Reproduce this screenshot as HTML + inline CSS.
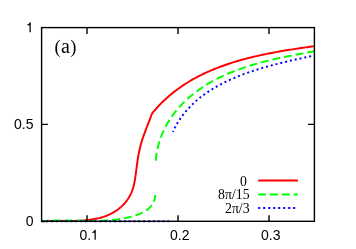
<!DOCTYPE html>
<html><head><meta charset="utf-8"><title>plot</title>
<style>html,body{margin:0;padding:0;background:#fff;overflow:hidden}svg{display:block}</style>
</head><body>
<svg width="356" height="249" viewBox="0 0 356 249">
<defs><filter id="idf" x="0" y="0" width="356" height="249" filterUnits="userSpaceOnUse" color-interpolation-filters="sRGB"><feOffset dx="0" dy="0"/></filter></defs>
<rect width="356" height="249" fill="#fff"/>
<g fill="none" stroke-width="1.95" stroke-linejoin="round">
<path d="M41.60,221.40L42.98,221.31L44.37,221.23L45.78,221.17L47.21,221.11L48.65,221.07L50.10,221.04L51.57,221.02L53.05,221.01L54.54,221.00L56.04,221.00L57.55,221.00L59.07,221.01L60.60,221.01L62.14,221.02L63.68,221.03L65.23,221.03L66.78,221.03L68.34,221.03L69.90,221.02L71.46,221.00L73.02,220.98L74.59,220.94L76.15,220.89L77.72,220.84L79.28,220.77L80.84,220.68L82.40,220.58L83.95,220.46L85.50,220.32L87.04,220.17L88.58,219.99L90.11,219.79L91.63,219.57L93.15,219.33L94.65,219.06L96.14,218.76L97.62,218.43L99.10,218.08L100.55,217.69L102.00,217.28L103.43,216.83L104.84,216.34L106.24,215.82L107.62,215.26L108.99,214.67L110.33,214.04L111.66,213.37L112.96,212.66L114.25,211.91L115.50,211.12L116.73,210.29L117.94,209.43L119.11,208.53L120.25,207.59L121.36,206.62L122.44,205.60L123.48,204.55L124.48,203.47L125.44,202.35L126.36,201.19L127.25,200.00L128.08,198.78L128.87,197.54L129.62,196.26L130.31,194.96L130.96,193.64L131.55,192.30L132.10,190.93L132.59,189.55L133.04,188.15L133.44,186.74L133.81,185.31L134.15,183.87L134.45,182.41L134.73,180.94L134.99,179.46L135.22,177.97L135.44,176.47L135.65,174.96L135.85,173.44L136.04,171.92L136.23,170.39L136.43,168.86L136.63,167.33L136.83,165.79L137.04,164.25L137.25,162.71L137.48,161.17L137.71,159.64L137.96,158.10L138.21,156.58L138.48,155.05L138.77,153.53L139.06,152.02L139.38,150.51L139.71,149.02L140.06,147.53L140.43,146.06L140.82,144.60L141.23,143.14L141.65,141.70L142.10,140.27L142.55,138.84L143.03,137.42L143.51,136.01L144.01,134.61L144.52,133.21L145.04,131.81L145.56,130.42L146.09,129.03L146.63,127.64L147.17,126.25L147.71,124.85L148.26,123.46L148.80,122.07L149.34,120.67L149.89,119.27L150.42,117.86L150.96,116.45L151.48,115.03L152.00,113.60L152.97,112.40L153.95,111.22L154.95,110.05L155.95,108.89L156.97,107.75L157.99,106.63L159.03,105.52L160.07,104.43L161.13,103.34L162.20,102.28L163.28,101.23L164.36,100.19L165.46,99.17L166.57,98.16L167.69,97.16L168.81,96.18L169.95,95.21L171.09,94.25L172.25,93.31L173.41,92.38L174.59,91.47L175.77,90.56L176.96,89.68L178.16,88.80L179.36,87.93L180.58,87.08L181.80,86.24L183.03,85.41L184.27,84.60L185.52,83.80L186.77,83.01L188.04,82.23L189.31,81.46L190.58,80.70L191.87,79.96L193.16,79.22L194.46,78.50L195.76,77.79L197.08,77.09L198.40,76.40L199.72,75.72L201.05,75.06L202.39,74.40L203.73,73.75L205.08,73.12L206.44,72.49L207.80,71.87L209.17,71.27L210.54,70.67L211.92,70.09L213.30,69.51L214.69,68.94L216.08,68.38L217.48,67.83L218.88,67.29L220.29,66.76L221.70,66.24L223.12,65.73L224.54,65.22L225.97,64.73L227.39,64.24L228.83,63.76L230.26,63.29L231.70,62.83L233.15,62.37L234.59,61.92L236.04,61.48L237.50,61.05L238.96,60.63L240.41,60.21L241.88,59.80L243.34,59.40L244.81,59.00L246.28,58.62L247.75,58.23L249.23,57.86L250.70,57.49L252.18,57.13L253.66,56.77L255.14,56.42L256.63,56.08L258.11,55.74L259.60,55.41L261.09,55.08L262.57,54.76L264.06,54.45L265.55,54.14L267.05,53.84L268.54,53.54L270.03,53.24L271.52,52.95L273.01,52.67L274.51,52.39L276.00,52.12L277.49,51.85L278.98,51.58L280.48,51.32L281.97,51.06L283.46,50.81L284.95,50.56L286.44,50.31L287.93,50.07L289.41,49.83L290.90,49.60L292.38,49.36L293.87,49.13L295.35,48.91L296.83,48.69L298.30,48.47L299.78,48.25L301.25,48.03L302.72,47.82L304.19,47.61L305.66,47.40L307.12,47.20L308.59,47.00L310.04,46.79L311.50,46.59L312.95,46.40L314.40,46.20" stroke="#ff0000"/>
<path d="M155.30,195.00L155.10,196.74L154.78,198.38L154.36,199.93L153.84,201.38L153.23,202.74L152.52,204.02L151.74,205.21L150.87,206.33L149.93,207.37L148.92,208.35L147.85,209.26L146.72,210.10L145.54,210.89L144.31,211.63L143.04,212.31L141.73,212.95L140.39,213.54L139.02,214.10L137.63,214.62L136.23,215.12L134.81,215.58L133.39,216.02L131.96,216.44L130.52,216.83L129.07,217.20L127.62,217.55L126.15,217.88L124.68,218.18L123.21,218.47L121.72,218.73L120.24,218.98L118.74,219.21L117.24,219.41L115.73,219.61L114.22,219.78L112.71,219.94L111.19,220.09L109.66,220.21L108.13,220.33L106.60,220.43L105.07,220.52L103.53,220.60L101.99,220.66L100.45,220.72L98.90,220.76L97.36,220.80L95.81,220.83L94.26,220.84L92.71,220.86L91.16,220.86L89.61,220.86L88.06,220.85L86.50,220.84L84.96,220.82L83.41,220.80L81.86,220.77L80.31,220.75L78.77,220.72L77.22,220.69L75.68,220.66L74.15,220.63L72.61,220.60L71.08,220.57L69.55,220.54L68.03,220.52L66.51,220.50L65.00,220.48L63.49,220.47L61.98,220.47L60.48,220.47L58.99,220.47L57.50,220.49L56.02,220.51L54.54,220.54L53.07,220.58L51.61,220.63L50.15,220.69L48.71,220.76L47.27,220.84L45.84,220.94L44.42,221.04L43.00,221.16L41.60,221.30" stroke="#00ff00" stroke-dasharray="7.9 3.95" stroke-dashoffset="1.0"/>
<path d="M155.70,160.70L155.84,159.13L156.01,157.57L156.20,156.02L156.42,154.49L156.67,152.96L156.94,151.44L157.24,149.93L157.56,148.44L157.91,146.95L158.28,145.48L158.68,144.02L159.10,142.56L159.55,141.12L160.01,139.69L160.51,138.28L161.02,136.87L161.56,135.48L162.12,134.09L162.70,132.72L163.30,131.36L163.93,130.02L164.57,128.68L165.24,127.36L165.93,126.05L166.64,124.76L167.37,123.47L168.11,122.20L168.88,120.94L169.67,119.70L170.47,118.46L171.30,117.25L172.14,116.04L173.00,114.85L173.88,113.67L174.78,112.50L175.69,111.35L176.62,110.21L177.57,109.09L178.53,107.98L179.51,106.88L180.50,105.79L181.51,104.72L182.54,103.66L183.58,102.61L184.63,101.58L185.70,100.56L186.79,99.55L187.88,98.56L188.99,97.58L190.12,96.61L191.25,95.66L192.40,94.72L193.56,93.79L194.73,92.87L195.92,91.97L197.11,91.08L198.32,90.20L199.54,89.34L200.77,88.49L202.01,87.65L203.25,86.82L204.51,86.01L205.78,85.21L207.06,84.42L208.34,83.64L209.64,82.88L210.94,82.13L212.25,81.39L213.57,80.67L214.89,79.96L216.23,79.26L217.56,78.57L218.91,77.89L220.26,77.23L221.62,76.57L222.99,75.93L224.36,75.30L225.74,74.68L227.13,74.07L228.52,73.48L229.91,72.89L231.32,72.31L232.72,71.74L234.13,71.19L235.55,70.64L236.97,70.11L238.40,69.58L239.83,69.06L241.26,68.55L242.70,68.05L244.14,67.56L245.59,67.08L247.03,66.61L248.49,66.14L249.94,65.69L251.40,65.24L252.86,64.80L254.32,64.37L255.79,63.94L257.26,63.52L258.73,63.11L260.20,62.71L261.67,62.31L263.15,61.92L264.63,61.54L266.10,61.17L267.58,60.80L269.06,60.43L270.54,60.07L272.02,59.72L273.51,59.38L274.99,59.03L276.47,58.70L277.95,58.37L279.43,58.04L280.91,57.72L282.39,57.41L283.87,57.10L285.35,56.79L286.82,56.49L288.30,56.19L289.77,55.89L291.24,55.60L292.71,55.31L294.18,55.03L295.64,54.75L297.11,54.47L298.57,54.19L300.02,53.92L301.48,53.65L302.93,53.38L304.38,53.11L305.82,52.85L307.26,52.59L308.70,52.33L310.13,52.07L311.56,51.81L312.98,51.56L314.40,51.30" stroke="#00ff00" stroke-dasharray="7.876 3.968"/>
<path d="M41.6,221.3H171.7" stroke="#0000ff" stroke-dasharray="2 2.85" stroke-dashoffset="0.3"/>
<path d="M172.90,131.80L173.56,130.38L174.23,128.98L174.93,127.60L175.65,126.24L176.39,124.90L177.15,123.57L177.94,122.27L178.74,120.99L179.56,119.72L180.40,118.47L181.26,117.24L182.14,116.03L183.03,114.84L183.95,113.66L184.88,112.50L185.83,111.36L186.80,110.23L187.78,109.13L188.78,108.04L189.80,106.96L190.83,105.90L191.87,104.86L192.94,103.84L194.02,102.83L195.11,101.83L196.21,100.86L197.34,99.89L198.47,98.94L199.62,98.01L200.78,97.09L201.95,96.19L203.14,95.30L204.34,94.43L205.55,93.56L206.77,92.72L208.00,91.88L209.24,91.06L210.50,90.26L211.76,89.47L213.03,88.69L214.32,87.92L215.61,87.16L216.91,86.42L218.22,85.69L219.54,84.97L220.87,84.27L222.20,83.57L223.55,82.89L224.90,82.22L226.25,81.56L227.61,80.91L228.98,80.27L230.36,79.65L231.74,79.03L233.12,78.42L234.52,77.83L235.91,77.24L237.31,76.66L238.72,76.10L240.13,75.54L241.54,74.99L242.96,74.45L244.39,73.92L245.81,73.40L247.25,72.88L248.68,72.38L250.12,71.88L251.56,71.39L253.01,70.91L254.46,70.44L255.91,69.97L257.36,69.52L258.82,69.06L260.27,68.62L261.74,68.18L263.20,67.75L264.66,67.33L266.13,66.91L267.60,66.49L269.07,66.09L270.54,65.69L272.01,65.29L273.48,64.90L274.95,64.52L276.43,64.14L277.90,63.76L279.38,63.39L280.85,63.02L282.32,62.66L283.80,62.30L285.27,61.95L286.75,61.60L288.22,61.25L289.69,60.91L291.16,60.57L292.63,60.23L294.10,59.89L295.56,59.56L297.03,59.23L298.49,58.90L299.95,58.58L301.41,58.26L302.86,57.93L304.31,57.61L305.76,57.29L307.21,56.98L308.66,56.66L310.10,56.34L311.54,56.03L312.97,55.71L314.40,55.40" stroke="#0000ff" stroke-dasharray="2.0 2.928" stroke-dashoffset="1.00"/>
<path d="M258.2,180.4H297.9" stroke="#ff0000"/>
<path d="M258.2,194.5H297.9" stroke="#00ff00" stroke-dasharray="8 3.8"/>
<path d="M258.2,207.9H297.9" stroke="#0000ff" stroke-dasharray="2 3"/>
</g>
<g fill="none" stroke="#000" stroke-width="1.4">
<rect x="41.6" y="27.6" width="272.80" height="193.70"/>
<path d="M87,221.3v-6M87,27.6v6.4"/>
<path d="M178,221.3v-6M178,27.6v6.4"/>
<path d="M269,221.3v-6M269,27.6v6.4"/>
<path d="M41.6,124.4h6.3M314.4,124.4h-6.3"/>
</g>
<g font-family="'Liberation Sans', sans-serif" font-size="14" fill="#000" filter="url(#idf)">
<path d="M29.51,32.30L29.51,25.30L27.13,25.30L27.13,24.43C28.52,24.26 29.19,23.96 29.75,22.37L30.75,22.37L30.75,32.30Z"/>
<text x="33.5" y="129" text-anchor="end">0.5</text>
<text x="33.5" y="226" text-anchor="end">0</text>
<text x="79.47" y="239.8">0.</text>
<path d="M94.54,239.80L94.54,232.80L92.16,232.80L92.16,231.93C93.55,231.76 94.22,231.46 94.78,229.87L95.77,229.87L95.77,239.80Z"/>
<text x="179.8" y="239.8" text-anchor="middle">0.2</text>
<text x="270.8" y="239.8" text-anchor="middle">0.3</text>
</g>
<g font-family="'Liberation Serif', serif" fill="#000" filter="url(#idf)">
<text x="54.5" y="53" font-size="20"><tspan font-size="18.5">(</tspan><tspan dx="0.3">a</tspan><tspan font-size="18.5" dx="0.3">)</tspan></text>
<text x="246.9" y="185.5" font-size="13.8" text-anchor="end">0</text>
<text x="249.6" y="199.3" font-size="13.8" text-anchor="end">8π/15</text>
<text x="249.6" y="213.1" font-size="13.8" text-anchor="end">2π/3</text>
</g>
</svg>
</body></html>
